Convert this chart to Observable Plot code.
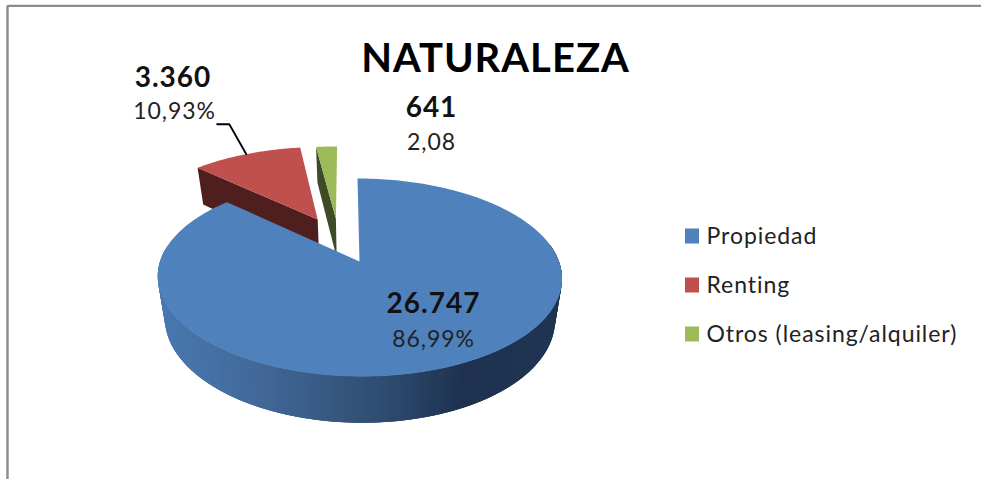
<!DOCTYPE html>
<html>
<head>
<meta charset="utf-8">
<style>
html,body{margin:0;padding:0;background:#fff;overflow:hidden}
svg{display:block}
.ttl text{letter-spacing:1px}
.cnt text{letter-spacing:1px}
.shr text{letter-spacing:.9px}
.leg text{letter-spacing:.95px}
</style>
<script src="https://cdn.jsdelivr.net/npm/d3@7"></script>
<script src="https://cdn.jsdelivr.net/npm/@observablehq/plot@0.6"></script>
</head>
<body>
<div id="chart"></div>
<script>
const title = "NATURALEZA";
const categories = ["Propiedad", "Renting", "Otros (leasing/alquiler)"];
const counts = [26747, 3360, 641];
const countLabels = ["26.747", "3.360", "641"];
const shareLabels = ["86,99%", "10,93%", "2,08"];
const topColors = ["#4F81BD", "#C0504D", "#9BBB59"];
const wallColors = ["#1F3552", "#4F1F1E", "#3F4B24"];

// explode offset of each slice, in units of the pie radius
const explodeU = [0, -0.22, -0.122];
const explodeV = [0, 0.4687, 0.479];

// oblique perspective of the pie: upper face and lower face
const P = 0.1616, SHEAR = -2.3, CX = 359;
const upper = {A: 199.5, B: 96.4, cy: 261};
const lower = {A: 192.5, B: 100.8, cy: 302};
function project(u, v, f) {
  const d = 1 + P * v;
  return {x: CX + (f.A * u + SHEAR * v) / d, y: f.cy - f.B * v / d};
}
const total = d3.sum(counts);
let run = 0;
const slices = counts.map((c, i) => {
  const a0 = run / total * 2 * Math.PI;
  run += c;
  return {i, a0, a1: run / total * 2 * Math.PI};
});
const rim = (s, a, f) => project(explodeU[s.i] + Math.sin(a), explodeV[s.i] + Math.cos(a), f);
const hub = (s, f) => project(explodeU[s.i], explodeV[s.i], f);

const addPoly = (list, id, pts, fill) => pts.forEach(p => list.push({id, x: p.x, y: p.y, fill}));

// green, then red: the visible cut face, then the upper face
const backPolys = [];
[slices[2], slices[1]].forEach(s => {
  addPoly(backPolys, "wall" + s.i, [rim(s, s.a0, upper), hub(s, upper), hub(s, lower), rim(s, s.a0, lower)], wallColors[s.i]);
  addPoly(backPolys, "top" + s.i, [hub(s, upper), ...d3.range(0, 41).map(k => rim(s, s.a0 + (s.a1 - s.a0) * k / 40, upper))], topColors[s.i]);
});

// blue outer wall with its horizontal shading; each strip overlaps the next
const shade = d3.scaleLinear()
  .domain([160, 250, 300, 380, 430, 460, 560])
  .range(["#4878AE", "#42699A", "#3B5E8A", "#2F4C70", "#243C5C", "#1E3250", "#1F3552"])
  .clamp(true);
const blue = slices[0];
const steps = 130, from = 280 * Math.PI / 180, to = 80 * Math.PI / 180;
const sidePolys = [];
d3.range(steps).forEach(k => {
  const a = from + (to - from) * k / steps, b = from + (to - from) * (k + 3) / steps;
  const p = rim(blue, a, upper), q = rim(blue, Math.max(b, to), upper), r = rim(blue, Math.max(b, to), lower), t = rim(blue, a, lower);
  addPoly(sidePolys, "side" + k, [p, q, r, t], shade(p.x));
});

// blue upper face
const bluePoly = [];
addPoly(bluePoly, "top0", [hub(blue, upper), ...d3.range(0, 241).map(k => rim(blue, blue.a0 + (blue.a1 - blue.a0) * k / 240, upper))], topColors[0]);

// leader line from the middle of the red arc to its label
const redMid = rim(slices[1], (slices[1].a0 + slices[1].a1) / 2, upper);
const leader = [redMid, {x: redMid.x - 17, y: redMid.y - 30}, {x: redMid.x - 29, y: redMid.y - 30}];

const countRows = [{x: 433, y: 312}, {x: 172.5, y: 86.5}, {x: 431, y: 116.5}].map((p, i) => ({...p, t: countLabels[i]}));
const shareRows = [{x: 433, y: 346}, {x: 174, y: 118}, {x: 431, y: 149}].map((p, i) => ({...p, t: shareLabels[i]}));
const legendRows = categories.map((t, i) => ({t, c: topColors[i], y: 236 + 49 * i}));

const font = "Lato, 'Open Sans', sans-serif";
const chart = Plot.plot({
  width: 981, height: 479, margin: 0,
  style: {background: "#fff", fontFamily: font},
  x: {domain: [0, 981], range: [0, 981], axis: null},
  y: {domain: [0, 479], range: [0, 479], axis: null},
  color: {type: "identity"},
  marks: [
    Plot.line([{x: 7, y: 479}, {x: 7, y: 5.4}, {x: 981, y: 5.4}], {x: "x", y: "y", stroke: "#8C8C8C", strokeWidth: 2.4, curve: "linear", strokeLinejoin: "miter"}),
    Plot.line(backPolys, {x: "x", y: "y", z: "id", fill: "fill", stroke: "none", curve: "linear"}),
    Plot.line(sidePolys, {x: "x", y: "y", z: "id", fill: "fill", stroke: "none", curve: "linear"}),
    Plot.line(bluePoly, {x: "x", y: "y", z: "id", fill: "fill", stroke: "none", curve: "linear"}),
    Plot.line(leader, {x: "x", y: "y", stroke: "#000", strokeWidth: 2, curve: "linear"}),
    Plot.text([title], {x: 495, y: 71, text: d => d, fontSize: 40, fontWeight: 700, fill: "#000", lineAnchor: "bottom", textAnchor: "middle", className: "ttl"}),
    Plot.text(countRows, {x: "x", y: "y", text: "t", fontSize: 28, fontWeight: 700, fill: "#111", lineAnchor: "bottom", textAnchor: "middle", className: "cnt"}),
    Plot.text(shareRows, {x: "x", y: "y", text: "t", fontSize: 23, fill: "#222", lineAnchor: "bottom", textAnchor: "middle", className: "shr"}),
    Plot.rect(legendRows, {x1: 685, x2: 699, y1: d => d.y - 7.5, y2: d => d.y + 7.5, fill: "c"}),
    Plot.text(legendRows, {x: 706, y: d => d.y + 7, text: "t", fontSize: 23, fill: "#222", lineAnchor: "bottom", textAnchor: "start", className: "leg"})
  ]
});
document.getElementById("chart").appendChild(chart);
</script>
</body>
</html>
